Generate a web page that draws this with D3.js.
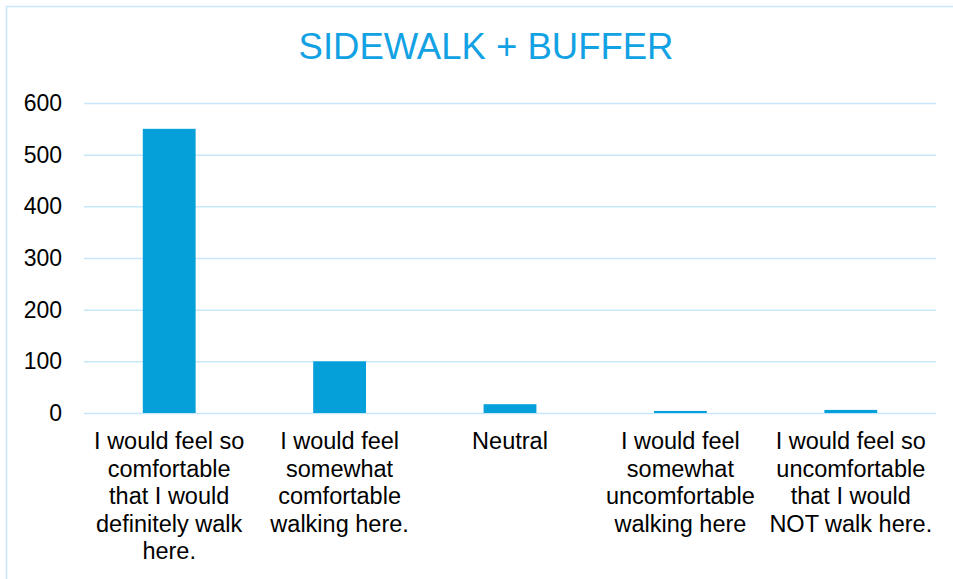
<!DOCTYPE html>
<html>
<head>
<meta charset="utf-8">
<script src="https://cdn.jsdelivr.net/npm/d3@7"></script>
<style>
  body { margin: 0; background: #fff; }
  text { font-family: "Liberation Sans", Arial, sans-serif; }
</style>
</head>
<body>
<div id="chart-area"></div>
<script>
const WIDTH = 953
const HEIGHT = 579
var margin = {"left": 84, "right": 17, "top": 103, "bottom": 166}

const GRAPH_WIDTH = WIDTH - margin.left - margin.right
const GRAPH_HEIGHT = HEIGHT - margin.top - margin.bottom

// chart data
var categories = [
    "I would feel so comfortable that I would definitely walk here.",
    "I would feel somewhat comfortable walking here.",
    "Neutral",
    "I would feel somewhat uncomfortable walking here",
    "I would feel so uncomfortable that I would NOT walk here."
]
var counts = [550, 100, 17, 4, 6]
var yTicks = [0, 100, 200, 300, 400, 500, 600]
var chartTitle = "SIDEWALK + BUFFER"

var svg = d3.select('#chart-area').append("svg")
    .attr("width", WIDTH)
    .attr("height", HEIGHT)

// outer chart border (only top and left visible in the crop)
svg.append("path")
    .attr("d", "M6.5," + HEIGHT + " L6.5,6.5 L" + WIDTH + ",6.5")
    .attr("fill", "none")
    .attr("stroke", "#c6e8fa")
    .attr("stroke-width", 1.5)

svg.append("text")
    .attr("x", 486)
    .attr("y", 59)
    .attr("text-anchor", "middle")
    .attr("font-size", "36.5px")
    .attr("fill", "#12a2e4")
    .text(chartTitle)

var g = svg.append("g")
    .attr("transform", "translate(" + margin.left + "," + margin.top + ")")

var xScale = d3.scaleBand()
    .domain(categories)
    .range([0, GRAPH_WIDTH])
    .paddingInner(0.69)
    .paddingOuter(0.345)

var yScale = d3.scaleLinear()
    .domain([0, 600])
    .range([GRAPH_HEIGHT, 0])

// gridlines
var yAxisCall = d3.axisLeft(yScale)
    .tickValues(yTicks)
    .tickSize(-GRAPH_WIDTH)
    .tickPadding(22)

var yAxisGroup = g.append("g").call(yAxisCall)
yAxisGroup.select(".domain").remove()
yAxisGroup.selectAll("line")
    .attr("stroke", "#c6e8fa")
    .attr("stroke-width", 1.5)
yAxisGroup.selectAll("text")
    .attr("font-size", "23px")
    .attr("fill", "#000")
    .attr("font-family", "Liberation Sans, Arial, sans-serif")

// bars
g.selectAll("rect.bar").data(counts)
    .enter()
    .append("rect")
    .attr("class", "bar")
    .attr("x", function(d, i){ return xScale(categories[i]) })
    .attr("width", xScale.bandwidth())
    .attr("y", function(d){ return yScale(d) })
    .attr("height", function(d){ return GRAPH_HEIGHT - yScale(d) })
    .attr("fill", "#059fd9")

// category labels, wrapped into the band width
var band = GRAPH_WIDTH / categories.length
var xLabels = g.append("g")
    .attr("transform", "translate(0," + GRAPH_HEIGHT + ")")

categories.forEach(function(cat, i){
    var cx = xScale(cat) + xScale.bandwidth() / 2
    var t = xLabels.append("text")
        .attr("x", cx)
        .attr("y", 36)
        .attr("text-anchor", "middle")
        .attr("font-size", "23.5px")
        .attr("fill", "#000")
    var words = cat.split(" ")
    var lines = []
    var line = ""
    words.forEach(function(w){
        var test = line ? line + " " + w : w
        t.text(test)
        if (line && t.node().getComputedTextLength() > band - 4) {
            lines.push(line)
            line = w
        } else {
            line = test
        }
    })
    lines.push(line)
    t.text(null)
    lines.forEach(function(l, j){
        t.append("tspan")
            .attr("x", cx)
            .attr("dy", j === 0 ? 0 : 27.6)
            .text(l)
    })
})
</script>
</body>
</html>
